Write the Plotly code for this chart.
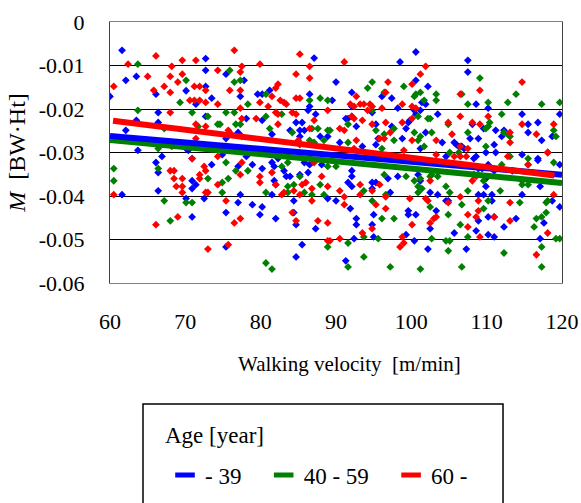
import plotly.graph_objects as go

# ---- data ----
blue_x = [61.6,72.7,72.7,63.5,62.1,72.7,70.1,66.1,60.0,71.4,66.4,72.7,63.5,66.4,62.1,63.7,66.9,70.1,
          70.4,70.9,66.1,66.4,73.5,70.9,71.4,70.9,61.6,66.4,70.1,72.5,70.9,
          87.1,75.4,77.8,81.2,79.6,80.2,77.3,73.5,86.5,86.5,86.3,78.1,80.2,84.7,85.5,87.3,85.2,85.8,83.9,81.5,77.0,75.4,77.5,85.2,87.9,74.9,78.1,82.3,
          77.0,78.9,80.2,81.5,81.8,83.1,83.4,83.9,85.8,86.5,85.2,86.3,81.8,82.0,88.1,77.3,81.5,77.0,78.9,80.2,84.4,75.4,79.9,82.0,84.4,84.7,87.3,88.9,75.4,85.5,84.7,
          100.6,98.5,90.0,100.6,102.2,92.1,96.1,97.4,89.5,101.4,101.9,98.2,92.1,100.4,100.6,101.2,94.8,103.5,91.3,91.6,92.1,99.8,99.6,95.3,97.4,99.3,92.7,101.9,95.6,98.8,88.9,90.5,93.5,95.3,101.2,104.1,
          92.1,92.1,91.6,92.1,94.8,95.3,96.9,98.2,97.2,94.8,100.9,101.2,102.5,103.5,90.0,91.9,99.6,99.6,100.6,95.0,102.5,103.3,92.7,92.7,94.8,95.0,92.4,99.3,100.4,102.2,91.3,104.9,
          107.5,107.5,108.6,110.2,114.7,119.7,115.5,116.8,115.5,109.6,111.2,112.3,112.0,108.1,107.8,108.9,105.7,106.0,106.3,106.7,107.0,111.0,117.3,118.7,109.9,111.2,108.6,108.3,104.6,114.7,118.1,116.8,
          116.8,119.7,110.2,108.9,109.4,111.0,113.4,108.3,109.9,109.9,108.9,109.6,110.7,114.7,117.1,104.6,110.7,118.7,119.7,110.2,111.0,113.9,108.9,117.6,112.3,108.6,105.7,110.2,111.0,117.1,107.3]
blue_y = [-0.0065,-0.0084,-0.0111,-0.0125,-0.0134,-0.0148,-0.0158,-0.0166,-0.0171,-0.0189,-0.0208,-0.0217,-0.0226,-0.0231,-0.0249,-0.0295,-0.0309,-0.0291,
          -0.0295,-0.0314,-0.0323,-0.0346,-0.0328,-0.0365,-0.0374,-0.0383,-0.0397,-0.0388,-0.0406,-0.0406,-0.0448,
          -0.0083,-0.0120,-0.0134,-0.0157,-0.0166,-0.0166,-0.0171,-0.0175,-0.0166,-0.0194,-0.0203,-0.0222,-0.0226,-0.0231,-0.0231,-0.0212,-0.0249,-0.0249,-0.0249,-0.0258,-0.0254,-0.0268,-0.0263,-0.0263,-0.0263,-0.0305,-0.0309,-0.0314,
          -0.0332,-0.0328,-0.0337,-0.0323,-0.0332,-0.0342,-0.0355,-0.0355,-0.0323,-0.0328,-0.0351,-0.0346,-0.0365,-0.0374,-0.0328,-0.0397,-0.0397,-0.0415,-0.0420,-0.0425,-0.0411,-0.0438,-0.0443,-0.0452,-0.0438,-0.0466,-0.0475,-0.0406,-0.0517,-0.0512,-0.0540,
          -0.0069,-0.0092,-0.0138,-0.0134,-0.0148,-0.0162,-0.0171,-0.0175,-0.0180,-0.0185,-0.0189,-0.0198,-0.0194,-0.0203,-0.0212,-0.0203,-0.0208,-0.0212,-0.0222,-0.0222,-0.0217,-0.0226,-0.0231,-0.0235,-0.0240,-0.0245,-0.0240,-0.0254,-0.0268,-0.0268,-0.0263,-0.0277,-0.0286,-0.0282,-0.0291,-0.0277,
          -0.0342,-0.0355,-0.0369,-0.0378,-0.0369,-0.0369,-0.0360,-0.0355,-0.0392,-0.0383,-0.0351,-0.0365,-0.0392,-0.0397,-0.0411,-0.0429,-0.0434,-0.0443,-0.0443,-0.0443,-0.0475,-0.0434,-0.0452,-0.0466,-0.0466,-0.0494,-0.0498,-0.0489,-0.0503,-0.0522,-0.0549,-0.0411,
          -0.0088,-0.0115,-0.0189,-0.0198,-0.0212,-0.0212,-0.0235,-0.0231,-0.0254,-0.0245,-0.0249,-0.0249,-0.0263,-0.0235,-0.0268,-0.0268,-0.0277,-0.0282,-0.0286,-0.0286,-0.0291,-0.0282,-0.0272,-0.0263,-0.0300,-0.0300,-0.0309,-0.0314,-0.0309,-0.0305,-0.0300,-0.0314,
          -0.0318,-0.0328,-0.0328,-0.0337,-0.0337,-0.0342,-0.0342,-0.0351,-0.0360,-0.0378,-0.0397,-0.0397,-0.0397,-0.0397,-0.0378,-0.0411,-0.0411,-0.0411,-0.0425,-0.0448,-0.0448,-0.0452,-0.0457,-0.0462,-0.0471,-0.0480,-0.0485,-0.0489,-0.0494,-0.0498,-0.0522]

green_x = [63.7,70.1,69.3,63.7,70.9,73.0,67.2,71.7,66.4,74.3,
           60.5,60.5,66.4,73.0,67.2,70.1,70.9,68.0,
           75.9,76.5,77.3,78.3,80.7,87.9,86.5,88.9,75.4,76.5,74.6,76.7,77.3,80.7,82.8,81.2,86.8,87.6,84.2,86.5,87.1,88.9,88.4,85.2,
           75.4,76.7,78.3,75.7,74.9,74.9,82.8,83.6,85.2,84.4,83.6,87.9,80.7,85.8,83.6,86.8,88.4,88.9,80.7,81.5,
           94.8,94.2,99.0,96.4,101.2,100.6,100.4,103.3,103.3,101.7,94.8,100.9,102.2,102.5,91.6,89.2,95.3,97.7,100.4,102.7,96.4,97.7,101.2,100.9,91.6,96.1,101.7,104.9,
           88.9,90.0,96.4,93.7,99.3,100.4,101.2,102.5,102.7,103.5,100.9,100.9,101.4,96.6,94.8,102.5,96.1,97.7,104.9,104.6,104.9,102.7,93.7,95.6,91.6,93.7,91.6,97.2,101.2,104.6,
           109.1,106.7,113.9,107.5,110.2,112.8,117.3,119.7,112.0,110.4,110.2,109.9,107.5,112.3,112.8,113.1,118.9,119.2,109.9,105.1,106.3,115.5,113.1,
           112.0,115.5,118.9,105.1,107.5,109.6,111.8,114.7,115.5,114.7,110.2,114.4,117.9,118.1,106.7,109.6,117.9,117.3,116.6,106.5,116.3,105.1,107.5,119.2,119.7,112.3,117.3,106.7,117.3]
green_y = [-0.0097,-0.0134,-0.0185,-0.0203,-0.0208,-0.0217,-0.0245,-0.0240,-0.0291,-0.0235,
           -0.0337,-0.0365,-0.0337,-0.0360,-0.0411,-0.0415,-0.0415,-0.0457,
           -0.0111,-0.0138,-0.0134,-0.0189,-0.0166,-0.0175,-0.0180,-0.0180,-0.0208,-0.0208,-0.0235,-0.0235,-0.0235,-0.0217,-0.0212,-0.0245,-0.0245,-0.0245,-0.0254,-0.0272,-0.0277,-0.0249,-0.0272,-0.0282,
           -0.0323,-0.0342,-0.0342,-0.0360,-0.0369,-0.0392,-0.0332,-0.0323,-0.0355,-0.0374,-0.0378,-0.0374,-0.0392,-0.0392,-0.0392,-0.0397,-0.0397,-0.0517,-0.0554,-0.0568,
           -0.0138,-0.0152,-0.0148,-0.0162,-0.0162,-0.0166,-0.0171,-0.0166,-0.0180,-0.0180,-0.0203,-0.0217,-0.0222,-0.0222,-0.0235,-0.0249,-0.0249,-0.0245,-0.0254,-0.0254,-0.0258,-0.0272,-0.0263,-0.0272,-0.0277,-0.0291,-0.0286,-0.0235,
           -0.0332,-0.0332,-0.0351,-0.0388,-0.0355,-0.0365,-0.0360,-0.0355,-0.0351,-0.0355,-0.0378,-0.0392,-0.0383,-0.0397,-0.0411,-0.0425,-0.0452,-0.0452,-0.0443,-0.0503,-0.0526,-0.0498,-0.0494,-0.0498,-0.0508,-0.0540,-0.0563,-0.0563,-0.0568,-0.0378,
           -0.0129,-0.0166,-0.0166,-0.0189,-0.0185,-0.0185,-0.0189,-0.0185,-0.0212,-0.0231,-0.0240,-0.0245,-0.0254,-0.0254,-0.0258,-0.0263,-0.0249,-0.0263,-0.0286,-0.0300,-0.0300,-0.0314,-0.0309,
           -0.0328,-0.0328,-0.0323,-0.0392,-0.0388,-0.0365,-0.0388,-0.0374,-0.0374,-0.0365,-0.0411,-0.0415,-0.0415,-0.0411,-0.0420,-0.0429,-0.0438,-0.0448,-0.0452,-0.0466,-0.0471,-0.0503,-0.0494,-0.0498,-0.0498,-0.0531,-0.0517,-0.0563,-0.0563]

red_x = [66.1,62.4,68.2,69.6,71.4,74.3,65.0,68.0,69.6,69.0,60.5,67.2,71.2,71.9,72.7,65.8,68.0,70.6,71.2,71.9,72.7,74.3,68.0,71.4,72.7,71.4,68.2,70.9,74.3,
         68.0,68.5,72.5,72.7,71.9,68.5,69.6,71.9,68.8,69.6,74.3,69.6,72.7,73.0,60.5,69.0,66.1,73.0,
         76.5,85.2,77.5,79.9,77.3,86.5,84.7,86.5,82.3,82.0,75.9,77.3,81.5,84.7,85.2,82.6,83.1,83.4,79.9,77.3,81.0,82.0,82.3,84.2,84.7,88.9,77.5,79.4,82.3,87.1,86.5,75.7,75.9,85.0,
         77.5,77.3,79.9,79.9,81.5,82.0,84.4,83.1,82.8,85.2,85.5,86.0,87.1,86.8,88.9,75.4,86.8,84.2,84.7,76.5,77.3,87.6,88.9,75.7,88.9,
         91.1,101.9,101.2,96.9,100.1,96.6,92.7,91.9,92.4,93.2,93.7,94.5,94.8,98.8,100.1,100.6,96.1,94.2,92.1,92.4,93.5,100.1,98.8,96.6,94.8,90.5,91.1,104.9,97.2,95.8,96.4,92.7,100.1,103.3,99.0,103.3,92.4,
         88.1,90.5,91.1,91.1,93.2,93.2,94.8,95.8,96.6,95.3,96.6,99.8,101.9,102.2,102.5,104.9,103.3,103.0,102.5,100.1,94.8,93.5,89.2,90.5,98.8,99.0,98.5,
         114.7,109.1,106.5,106.5,110.2,108.1,109.1,114.7,118.9,105.4,113.1,116.6,113.1,106.5,107.5,118.1,106.5,107.3,105.7,112.8,
         115.5,108.1,108.6,106.5,108.9,113.1,118.9,108.9,107.5,108.6,111.0,113.1,107.5,118.1,109.1,116.6]
red_y = [-0.0078,-0.0097,-0.0102,-0.0088,-0.0088,-0.0111,-0.0125,-0.0125,-0.0120,-0.0138,-0.0148,-0.0148,-0.0148,-0.0148,-0.0157,-0.0157,-0.0162,-0.0180,-0.0180,-0.0180,-0.0185,-0.0189,-0.0208,-0.0235,-0.0240,-0.0268,-0.0286,-0.0314,-0.0309,
         -0.0342,-0.0342,-0.0332,-0.0342,-0.0351,-0.0360,-0.0360,-0.0360,-0.0378,-0.0378,-0.0374,-0.0392,-0.0392,-0.0392,-0.0397,-0.0448,-0.0466,-0.0522,
         -0.0065,-0.0074,-0.0102,-0.0097,-0.0115,-0.0102,-0.0120,-0.0129,-0.0143,-0.0152,-0.0157,-0.0157,-0.0171,-0.0175,-0.0175,-0.0180,-0.0185,-0.0189,-0.0185,-0.0198,-0.0194,-0.0208,-0.0212,-0.0208,-0.0212,-0.0203,-0.0222,-0.0222,-0.0235,-0.0226,-0.0245,-0.0249,-0.0254,-0.0272,
         -0.0323,-0.0351,-0.0355,-0.0369,-0.0346,-0.0374,-0.0388,-0.0392,-0.0397,-0.0397,-0.0374,-0.0369,-0.0323,-0.0383,-0.0378,-0.0411,-0.0411,-0.0438,-0.0457,-0.0462,-0.0452,-0.0457,-0.0462,-0.0512,-0.0503,
         -0.0092,-0.0102,-0.0120,-0.0138,-0.0143,-0.0162,-0.0171,-0.0189,-0.0194,-0.0189,-0.0189,-0.0189,-0.0194,-0.0189,-0.0194,-0.0198,-0.0198,-0.0203,-0.0217,-0.0222,-0.0226,-0.0222,-0.0231,-0.0231,-0.0235,-0.0245,-0.0249,-0.0231,-0.0254,-0.0268,-0.0268,-0.0272,-0.0272,-0.0272,-0.0295,-0.0305,-0.0291,
         -0.0355,-0.0388,-0.0402,-0.0420,-0.0374,-0.0397,-0.0388,-0.0374,-0.0402,-0.0420,-0.0429,-0.0406,-0.0406,-0.0411,-0.0365,-0.0415,-0.0448,-0.0452,-0.0462,-0.0466,-0.0475,-0.0485,-0.0503,-0.0498,-0.0494,-0.0508,-0.0517,
         -0.0138,-0.0157,-0.0166,-0.0217,-0.0217,-0.0231,-0.0235,-0.0235,-0.0235,-0.0258,-0.0254,-0.0258,-0.0277,-0.0286,-0.0291,-0.0300,-0.0309,-0.0309,-0.0309,-0.0309,
         -0.0328,-0.0365,-0.0355,-0.0402,-0.0411,-0.0415,-0.0397,-0.0434,-0.0443,-0.0448,-0.0448,-0.0457,-0.0471,-0.0485,-0.0494,-0.0535]

# regression lines (end points)
blue_fit_x = [60, 120]
blue_fit_y = [-0.0262, -0.0351]
green_fit_x = [60, 120]
green_fit_y = [-0.0271, -0.0370]
red_fit_x = [60.4, 119]
red_fit_y = [-0.0227, -0.0353]

groups = ["- 39", "40 - 59", "60 -"]
colors = ["#0000FF", "#008000", "#FF0000"]
legend_title = "Age [year]"
x_title = "Walking velocity  [m/min]"
y_title = "<i>M</i>  [BW·Ht]"

y_ticks = [0, -0.01, -0.02, -0.03, -0.04, -0.05, -0.06]
y_ticktext = ["0", "-0.01", "-0.02", "-0.03", "-0.04", "-0.05", "-0.06"]
x_ticks = [60, 70, 80, 90, 100, 110, 120]

FONT = "Liberation Serif"
PAD = "\u2002\u2005"  # invisible spacing after each legend label

fig = go.Figure()
for xs, ys, c in [(blue_x, blue_y, colors[0]), (green_x, green_y, colors[1]), (red_x, red_y, colors[2])]:
    fig.add_trace(go.Scatter(x=xs, y=ys, mode="markers", showlegend=False,
                             marker=dict(symbol="diamond", size=6, color=c, line=dict(width=0))))
for xs, ys, c in [(green_fit_x, green_fit_y, colors[1]), (blue_fit_x, blue_fit_y, colors[0]), (red_fit_x, red_fit_y, colors[2])]:
    fig.add_trace(go.Scatter(x=xs, y=ys, mode="lines", showlegend=False,
                             line=dict(color=c, width=6)))
# legend entries
for name, c in zip(groups, colors):
    fig.add_trace(go.Scatter(x=[None], y=[None], mode="markers", name=name + PAD,
                             marker=dict(symbol="line-ew", size=14, color=c,
                                         line=dict(color=c, width=5))))

# legend frame and title
fig.add_shape(type="rect", xref="paper", yref="paper",
              x0=0.073, x1=0.8695, y0=-0.95, y1=-0.4636,
              line=dict(color="black", width=1.5), fillcolor="rgba(0,0,0,0)")
fig.add_annotation(text=legend_title, xref="paper", yref="paper",
                   x=0.1173, y=-0.586, xanchor="left", yanchor="middle",
                   showarrow=False, font=dict(family=FONT, size=23))
# x-axis title
fig.add_annotation(text=x_title, xref="paper", yref="paper",
                   x=0.529, y=-0.31, xanchor="center", yanchor="middle",
                   showarrow=False, font=dict(family=FONT, size=21))

fig.update_layout(
    width=581, height=503,
    margin=dict(l=110, r=19, t=22, b=220, autoexpand=False),
    paper_bgcolor="white", plot_bgcolor="white",
    font=dict(family=FONT, size=22, color="black"),
    xaxis=dict(range=[60, 120], tickvals=x_ticks, showgrid=False, zeroline=False,
               showline=True, linecolor="#808080", linewidth=1, mirror=True,
               ticks="", ticklabelstandoff=19, automargin=False,
               tickfont=dict(family=FONT, size=22)),
    yaxis=dict(range=[-0.06, 0], tickvals=y_ticks, ticktext=y_ticktext,
               showgrid=True, gridcolor="black", gridwidth=1, zeroline=False,
               showline=True, linecolor="#404040", linewidth=1, mirror=True,
               ticks="", ticklabelstandoff=20, automargin=False,
               tickfont=dict(family=FONT, size=22),
               title=dict(text=y_title, standoff=6,
                          font=dict(family=FONT, size=24))),
    legend=dict(orientation="h", x=0.1217, xanchor="left", y=-0.7356, yanchor="middle",
                borderwidth=0, bgcolor="rgba(0,0,0,0)",
                font=dict(family=FONT, size=23), itemwidth=30),
)

fig.write_html("out.html")
